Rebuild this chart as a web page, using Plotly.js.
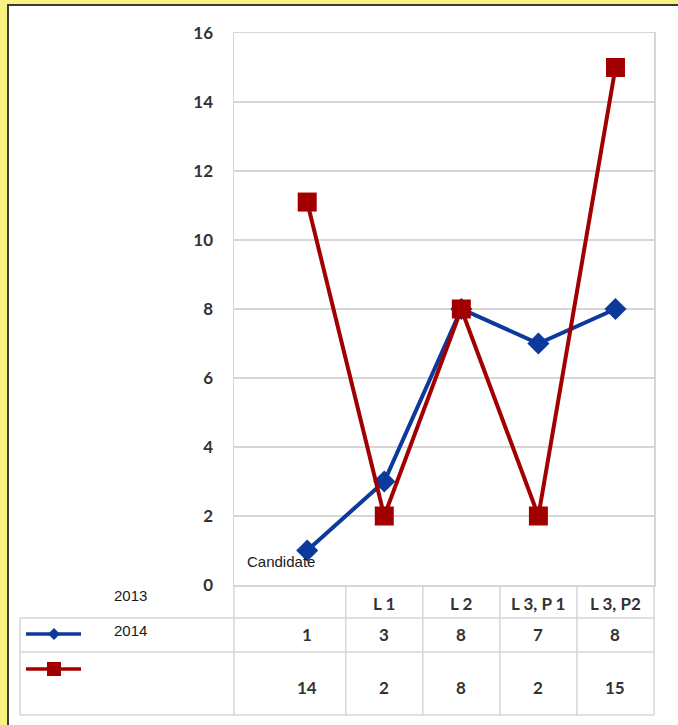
<!DOCTYPE html>
<html><head><meta charset="utf-8">
<script src="https://cdn.plot.ly/plotly-3.0.1.min.js"></script>
<style>
html,body{margin:0;padding:0;background:#f7f27f;overflow:hidden;}
#frame{position:absolute;left:7px;top:4px;width:671px;height:721px;border-left:2px solid #3a3a3a;border-top:2px solid #3a3a3a;background:#fff;}
#chart{width:671px;height:721px;}
</style></head><body><div id="frame"><div id="chart"></div></div>
<script>
// ---- data ----
var categories = ['Candidate', 'L 1', 'L 2', 'L 3, P 1', 'L 3, P2'];
var seriesBlue = [1, 3, 8, 7, 8];          // plotted values (blue, diamonds)
var seriesRed = [11.1, 2, 8, 2, 15];       // plotted values (red, squares)
var tableBlue = ['1', '3', '8', '7', '8']; // data-table row texts
var tableRed = ['14', '2', '8', '2', '15'];
var rowNames = ['2013', '2014'];
var yTicks = [0, 2, 4, 6, 8, 10, 12, 14, 16];

// ---- style / layout constants ----
var BLUE = '#0b3a9c', RED = '#a20000', GRID = '#d6d6d6';
var PL = 234, PR = 654, PT = 33, PB = 585; // plot area in page pixels
function px(X) { return (X - PL) / (PR - PL); }
function py(Y) { return (PB - Y) / (PB - PT); }

var traces = [
  {x: categories, y: seriesBlue, type: 'scatter', mode: 'lines+markers',
   line: {color: BLUE, width: 4}, marker: {symbol: 'diamond', size: 17, color: BLUE},
   cliponaxis: false, showlegend: false, hoverinfo: 'skip'},
  {x: categories, y: seriesRed, type: 'scatter', mode: 'lines+markers',
   line: {color: RED, width: 4}, marker: {symbol: 'square', size: 19, color: RED},
   cliponaxis: false, showlegend: false, hoverinfo: 'skip'}
];

var shapes = [];
function hline(X0, X1, Y) {
  shapes.push({type: 'line', xref: 'paper', yref: 'paper', x0: px(X0), x1: px(X1), y0: py(Y), y1: py(Y),
    line: {color: GRID, width: 1.5}});
}
function vline(xv, xref, Y0, Y1) {
  shapes.push({type: 'line', xref: xref, yref: 'paper', x0: xv, x1: xv, y0: py(Y0), y1: py(Y1),
    line: {color: GRID, width: 1.5}});
}
// table grid
hline(20, PR, 618); hline(20, PR, 652); hline(20, PR, 715);
vline(px(20), 'paper', 618, 715);
vline(0, 'paper', PB, 715);
for (var i = 0; i < categories.length - 1; i++) vline(i + 0.5, 'x', PB, 715);
vline(1, 'paper', PB, 715);

// legend keys
function keyLine(Y, color) {
  shapes.push({type: 'line', xref: 'paper', yref: 'paper', x0: px(26), x1: px(81), y0: py(Y), y1: py(Y),
    line: {color: color, width: 3.5}});
}
keyLine(634, BLUE); keyLine(669, RED);
var cx = 54, cy = 634, d = 6;
shapes.push({type: 'path', xref: 'paper', yref: 'paper', fillcolor: BLUE, line: {width: 0},
  path: 'M' + px(cx - d) + ',' + py(cy) + ' L' + px(cx) + ',' + py(cy - d) + ' L' + px(cx + d) + ',' + py(cy) +
        ' L' + px(cx) + ',' + py(cy + d) + ' Z'});
shapes.push({type: 'rect', xref: 'paper', yref: 'paper', fillcolor: RED, line: {width: 0},
  x0: px(54 - 7), x1: px(54 + 7), y0: py(669 - 7), y1: py(669 + 7)});

var annotations = [];
var tfont = {family: 'Lato, "Open Sans", sans-serif', size: 17, color: '#333333', weight: 'bold'};
for (var j = 1; j < categories.length; j++) {
  annotations.push({x: j, xref: 'x', y: py(603), yref: 'paper', text: categories[j], showarrow: false,
    font: tfont, xanchor: 'center', yanchor: 'middle'});
}
for (var k = 0; k < categories.length; k++) {
  annotations.push({x: k, xref: 'x', y: py(634), yref: 'paper', text: tableBlue[k], showarrow: false,
    font: tfont, xanchor: 'center', yanchor: 'middle'});
  annotations.push({x: k, xref: 'x', y: py(687), yref: 'paper', text: tableRed[k], showarrow: false,
    font: tfont, xanchor: 'center', yanchor: 'middle'});
}
var afont = {family: '"Liberation Sans", Arial, sans-serif', size: 15, color: '#1a1a1a'};
annotations.push({x: px(245), xref: 'paper', y: py(561), yref: 'paper', text: categories[0], showarrow: false,
  font: afont, xanchor: 'left', yanchor: 'middle'});
annotations.push({x: px(130), xref: 'paper', y: py(595), yref: 'paper', text: rowNames[0], showarrow: false,
  font: afont, xanchor: 'center', yanchor: 'middle'});
annotations.push({x: px(130), xref: 'paper', y: py(630), yref: 'paper', text: rowNames[1], showarrow: false,
  font: afont, xanchor: 'center', yanchor: 'middle'});

var layout = {
  width: 669, height: 719,
  margin: {l: PL - 9, r: 678 - PR, t: PT - 6, b: 725 - PB, pad: 0},
  paper_bgcolor: '#ffffff', plot_bgcolor: '#ffffff',
  showlegend: false,
  xaxis: {type: 'category', range: [-0.95, 4.5], showticklabels: false, showgrid: false, zeroline: false,
    showline: true, linecolor: GRID, linewidth: 1.5, mirror: true, fixedrange: true},
  yaxis: {range: [0, 16], tickvals: yTicks, showgrid: true, gridcolor: GRID, gridwidth: 2, zeroline: false,
    showline: true, linecolor: GRID, linewidth: 1.5, mirror: true, ticks: '', ticklabelstandoff: 16,
    tickfont: {family: 'Lato, "Open Sans", sans-serif', size: 17, color: '#333333', weight: 'bold'}, fixedrange: true},
  shapes: shapes,
  annotations: annotations
};
Plotly.newPlot('chart', traces, layout, {staticPlot: true, displayModeBar: false});
</script></body></html>
